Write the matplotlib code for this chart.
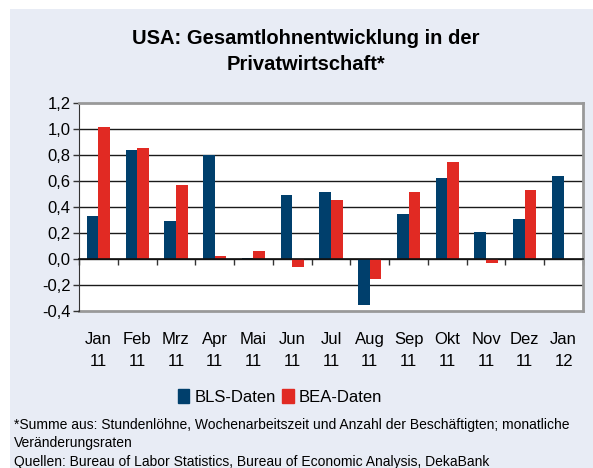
import numpy as np
import matplotlib.pyplot as plt
from matplotlib.patches import Patch, Rectangle

months = ['Jan\n11', 'Feb\n11', 'Mrz\n11', 'Apr\n11', 'Mai\n11', 'Jun\n11', 'Jul\n11',
          'Aug\n11', 'Sep\n11', 'Okt\n11', 'Nov\n11', 'Dez\n11', 'Jan\n12']
bls = [0.33, 0.84, 0.29, 0.80, 0.01, 0.49, 0.515, -0.35, 0.345, 0.62, 0.21, 0.31, 0.64]
bea = [1.015, 0.855, 0.57, 0.025, 0.065, -0.065, 0.455, -0.15, 0.515, 0.75, -0.03, 0.53, np.nan]
yticks = [-0.4, -0.2, 0.0, 0.2, 0.4, 0.6, 0.8, 1.0, 1.2]

BLUE = '#003f6c'
RED = '#e12a23'
BG = '#e8ecf5'

plt.rcParams['font.family'] = ['Liberation Sans', 'DejaVu Sans']

fig = plt.figure(figsize=(5.93, 4.68), dpi=100)
fig.patch.set_facecolor('white')
fig.patches.append(Rectangle((10/593, 0), 1, 1 - 9/468, transform=fig.transFigure,
                             facecolor=BG, edgecolor='none', zorder=-10))

ax = fig.add_axes([79/593, 1 - 311/468, 504/593, 208/468])
x = np.arange(len(months))
w = 0.3
ax.bar(x - w/2, bls, w, color=BLUE, zorder=3, label='BLS-Daten')
ax.bar(x + w/2, bea, w, color=RED, zorder=3, label='BEA-Daten')

ax.set_xlim(-0.5, len(months) - 0.5)
ax.set_ylim(-0.4, 1.2)
ax.set_yticks(yticks)
ax.set_yticklabels([('%.1f' % v).replace('.', ',') for v in yticks], fontsize=12)
ax.tick_params(axis='y', direction='out', length=4, width=1, color='#333333', pad=2)
for v in yticks[1:-1]:
    ax.axhline(v, color='#1a1a1a', lw=1, zorder=1)

# zero line with tick marks between categories
ax.spines['bottom'].set_position(('data', 0))
ax.spines['bottom'].set_color('#111111')
ax.spines['bottom'].set_linewidth(1.2)
ax.spines['bottom'].set_zorder(4)
ax.set_xticks(np.arange(-0.5, len(months)))
ax.tick_params(axis='x', direction='out', length=4, width=1, labelbottom=False, color='#333333')

ax.spines['left'].set_color('#333333')
for s in ['top', 'right']:
    ax.spines[s].set_color('#999999')
    ax.spines[s].set_linewidth(2)

sec = ax.secondary_xaxis(0)
sec.set_xticks(x)
sec.set_xticklabels(months, fontsize=12, linespacing=1.6)
sec.tick_params(length=0, pad=15)
sec.spines['bottom'].set_color('#999999')
sec.spines['bottom'].set_linewidth(2)

fig.text(306/593, 1 - 38/468, 'USA: Gesamtlohnentwicklung in der', ha='center', va='center',
         fontsize=14.5, fontweight='bold')
fig.text(306/593, 1 - 65/468, 'Privatwirtschaft*', ha='center', va='center',
         fontsize=14.5, fontweight='bold')

handles = [Patch(color=BLUE), Patch(color=RED)]
fig.legend(handles, ['BLS-Daten', 'BEA-Daten'], loc='center', bbox_to_anchor=(280/593, 1 - 397/468),
           ncol=2, frameon=False, fontsize=12, handlelength=0.7, handleheight=0.9,
           handletextpad=0.3, columnspacing=0.4)

foot = ['*Summe aus: Stundenlöhne, Wochenarbeitszeit und Anzahl der Beschäftigten; monatliche',
        'Veränderungsraten',
        'Quellen: Bureau of Labor Statistics, Bureau of Economic Analysis, DekaBank']
for i, t in enumerate(foot):
    fig.text(14/593, 1 - (425 + 18.5*i)/468, t, ha='left', va='center', fontsize=10)

fig.savefig('out.png', dpi=100, facecolor=fig.get_facecolor())
